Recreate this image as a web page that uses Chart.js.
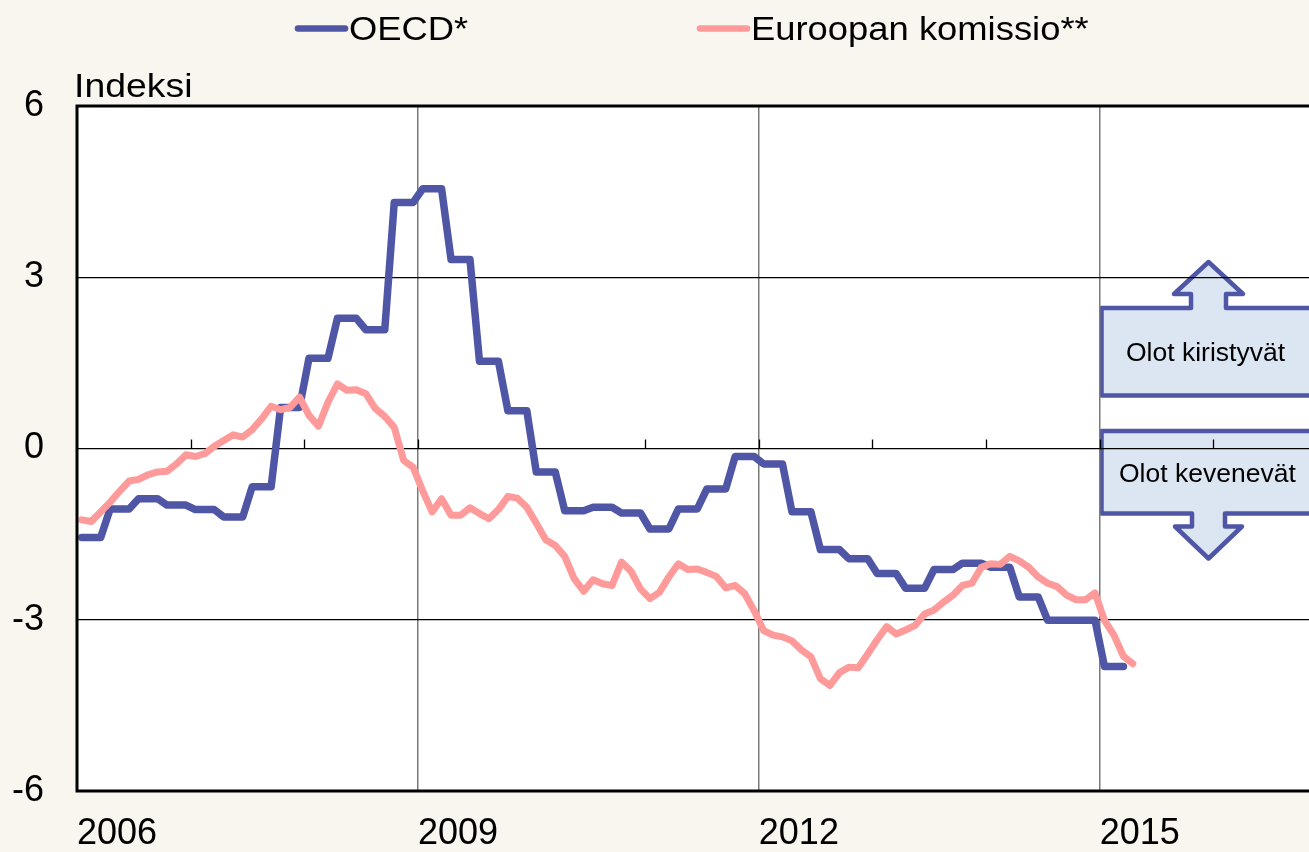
<!DOCTYPE html>
<html>
<head>
<meta charset="utf-8">
<script src="https://cdn.jsdelivr.net/npm/chart.js@4/dist/chart.umd.min.js"></script>
<style>
  html, body { margin: 0; padding: 0; overflow: hidden; background: #F9F5EF; }
  #wrap { width: 1309px; height: 852px; overflow: hidden; }
  canvas { display: block; }
</style>
</head>
<body>
<div id="wrap"><canvas id="c" width="1327" height="852"></canvas></div>
<script>
// ---- Data (monthly, Jan 2006 onward) ----
const startYear = 2006;
const seriesNames = ['OECD*', 'Euroopan komissio**'];
const seriesColors = ['#4F56A6', '#FF9A9A'];

// OECD* (quarterly value, shown for each month)
const oecd = [
  -1.56,-1.56,-1.56, -1.06,-1.06,-1.06, -0.88,-0.88,-0.88, -0.99,-0.99,-0.99,
  -1.07,-1.07,-1.07, -1.20,-1.20,-1.20, -0.67,-0.67,-0.67,  0.72, 0.72, 0.72,
   1.58, 1.58, 1.58,  2.28, 2.28, 2.28,  2.08, 2.08, 2.08,  4.31, 4.31, 4.31,
   4.55, 4.55, 4.55,  3.31, 3.31, 3.31,  1.53, 1.53, 1.53,  0.66, 0.66, 0.66,
  -0.41,-0.41,-0.41, -1.09,-1.09,-1.09, -1.03,-1.03,-1.03, -1.13,-1.13,-1.13,
  -1.41,-1.41,-1.41, -1.06,-1.06,-1.06, -0.71,-0.71,-0.71, -0.14,-0.14,-0.14,
  -0.27,-0.27,-0.27, -1.11,-1.11,-1.11, -1.77,-1.77,-1.77, -1.93,-1.93,-1.93,
  -2.19,-2.19,-2.19, -2.45,-2.45,-2.45, -2.12,-2.12,-2.12, -2.01,-2.01,-2.01,
  -2.08,-2.08,-2.08, -2.60,-2.60,-2.60, -3.01,-3.01,-3.01, -3.01,-3.01,-3.01,
  -3.82,-3.82,-3.82
];

// Euroopan komissio** (monthly)
const ec = [
  -1.25,-1.28,-1.11,-0.94,-0.75,-0.57,-0.54,-0.46,-0.41,-0.40,-0.27,-0.11,
  -0.14,-0.09, 0.04, 0.14, 0.24, 0.20, 0.33, 0.52, 0.74, 0.68, 0.72, 0.90,
   0.58, 0.39, 0.81, 1.13, 1.02, 1.03, 0.96, 0.70, 0.56, 0.37,-0.21,-0.33,
  -0.74,-1.11,-0.88,-1.17,-1.17,-1.04,-1.14,-1.23,-1.07,-0.84,-0.87,-1.03,
  -1.31,-1.60,-1.70,-1.89,-2.28,-2.50,-2.30,-2.37,-2.40,-1.99,-2.15,-2.46,
  -2.63,-2.52,-2.25,-2.02,-2.12,-2.11,-2.17,-2.24,-2.44,-2.40,-2.54,-2.84,
  -3.19,-3.27,-3.30,-3.37,-3.53,-3.65,-4.03,-4.15,-3.93,-3.83,-3.84,-3.60,
  -3.35,-3.12,-3.25,-3.18,-3.10,-2.90,-2.83,-2.69,-2.57,-2.40,-2.36,-2.08,
  -2.02,-2.03,-1.89,-1.97,-2.08,-2.25,-2.36,-2.42,-2.57,-2.65,-2.65,-2.53,
  -3.01,-3.27,-3.64,-3.77
];

const yearTicks = [2006, 2009, 2012, 2015];
const minorYears = [2007, 2008, 2009, 2010, 2011, 2012, 2013, 2014, 2015, 2016];
const yTicks = [-6, -3, 0, 3, 6];
const yTitle = 'Indeksi';
const calloutUp = 'Olot kiristyvät';
const calloutDown = 'Olot kevenevät';

// month index -> decimal year (mid-month)
function toPoints(values) {
  return values.map((v, i) => ({ x: startYear + (i + 0.5) / 12, y: v }));
}

const FONT = '"Liberation Sans", Arial, sans-serif';
Chart.defaults.font.family = FONT;
Chart.defaults.color = '#000';

// draw text slightly stretched horizontally (as in the reference)
function wideText(ctx, txt, x, y, sx) {
  ctx.save();
  ctx.translate(x, y);
  ctx.scale(sx, 1);
  ctx.fillText(txt, 0, 0);
  ctx.restore();
}

const bgPlugin = {
  id: 'bg',
  beforeDraw(chart) {
    const { ctx, chartArea: a } = chart;
    ctx.save();
    ctx.fillStyle = '#F9F5EF';
    ctx.fillRect(0, 0, chart.width, chart.height);
    ctx.fillStyle = '#FFFFFF';
    ctx.fillRect(a.left, a.top, a.right - a.left, a.bottom - a.top);

    // callouts
    ctx.lineJoin = 'round';
    ctx.lineWidth = 4.5;
    ctx.strokeStyle = '#4F56A6';
    ctx.fillStyle = '#DCE6F2';
    // up
    ctx.beginPath();
    ctx.moveTo(1101.5, 395.5); ctx.lineTo(1101.5, 308); ctx.lineTo(1191, 308);
    ctx.lineTo(1191, 294); ctx.lineTo(1174, 294); ctx.lineTo(1208.5, 262);
    ctx.lineTo(1243, 294); ctx.lineTo(1226, 294); ctx.lineTo(1226, 308);
    ctx.lineTo(1318, 308); ctx.lineTo(1318, 395.5); ctx.closePath();
    ctx.fill(); ctx.stroke();
    // down
    ctx.beginPath();
    ctx.moveTo(1101.5, 431); ctx.lineTo(1101.5, 513.5); ctx.lineTo(1192, 513.5);
    ctx.lineTo(1192, 526.5); ctx.lineTo(1175, 526.5); ctx.lineTo(1208.5, 558.5);
    ctx.lineTo(1242, 526.5); ctx.lineTo(1225, 526.5); ctx.lineTo(1225, 513.5);
    ctx.lineTo(1318, 513.5); ctx.lineTo(1318, 431); ctx.closePath();
    ctx.fill(); ctx.stroke();

    ctx.fillStyle = '#000';
    ctx.font = '25px ' + FONT;
    ctx.textBaseline = 'alphabetic';
    ctx.textAlign = 'left';
    wideText(ctx, calloutUp, 1126, 361, 1.06);
    wideText(ctx, calloutDown, 1119, 482, 1.06);
    ctx.restore();
  },
  beforeDatasetsDraw(chart) {
    const { ctx } = chart;
    const xs = chart.scales.x, ys = chart.scales.y;
    const y0 = ys.getPixelForValue(0);
    ctx.save();
    ctx.strokeStyle = '#000';
    ctx.lineWidth = 1.3;
    minorYears.forEach(yr => {
      const px = Math.round(xs.getPixelForValue(yr)) + 0.5;
      ctx.beginPath(); ctx.moveTo(px, y0); ctx.lineTo(px, y0 - 9); ctx.stroke();
    });
    ctx.restore();
  },
  afterDraw(chart) {
    const { ctx, chartArea: a } = chart;
    ctx.save();
    // plot border (left, top, bottom)
    ctx.strokeStyle = '#000';
    ctx.lineWidth = 3;
    ctx.beginPath();
    ctx.moveTo(chart.width + 5, a.top); ctx.lineTo(a.left, a.top);
    ctx.lineTo(a.left, a.bottom); ctx.lineTo(chart.width + 5, a.bottom);
    ctx.stroke();

    // y title
    ctx.fillStyle = '#000';
    ctx.font = '34px ' + FONT;
    ctx.textAlign = 'left';
    ctx.textBaseline = 'alphabetic';
    wideText(ctx, yTitle, 74, 97, 1.1);

    // legend
    const legendX = [295, 697];
    chart.data.datasets.forEach((ds, i) => {
      const lx = legendX[i];
      ctx.strokeStyle = ds.borderColor;
      ctx.lineWidth = 6.5;
      ctx.lineCap = 'round';
      ctx.beginPath(); ctx.moveTo(lx + 3, 28.5); ctx.lineTo(lx + 50, 28.5); ctx.stroke();
      ctx.fillStyle = '#000';
      wideText(ctx, ds.label, lx + 54, 40, 1.07);
    });
    ctx.restore();
  }
};

new Chart(document.getElementById('c'), {
  type: 'line',
  data: {
    datasets: [
      { label: seriesNames[0], data: toPoints(oecd), borderColor: seriesColors[0],
        backgroundColor: seriesColors[0], borderWidth: 7.5, pointRadius: 0,
        tension: 0, borderJoinStyle: 'round', borderCapStyle: 'round', order: 1 },
      { label: seriesNames[1], data: toPoints(ec), borderColor: seriesColors[1],
        backgroundColor: seriesColors[1], borderWidth: 7, pointRadius: 0,
        tension: 0, borderJoinStyle: 'round', borderCapStyle: 'round', order: 0 }
    ]
  },
  options: {
    responsive: false,
    animation: false,
    devicePixelRatio: 1,
    layout: { padding: { top: 106, left: 0, right: 0, bottom: 0 } },
    plugins: { legend: { display: false }, tooltip: { enabled: false } },
    scales: {
      x: {
        type: 'linear', min: 2006, max: 2017,
        afterBuildTicks: s => { s.ticks = yearTicks.map(v => ({ value: v })); },
        afterFit: s => { s.height = 61; },
        ticks: { font: { size: 36 }, color: '#000', align: 'start', padding: 21,
                 maxRotation: 0, autoSkip: false, callback: v => String(v) },
        grid: { drawTicks: false, lineWidth: 1.5,
                color: c => (c.tick && c.tick.value === 2006) ? 'rgba(0,0,0,0)' : '#7A7A7A' },
        border: { display: false }
      },
      y: {
        min: -6, max: 6,
        afterBuildTicks: s => { s.ticks = yTicks.map(v => ({ value: v })); },
        afterFit: s => { s.width = 77; },
        ticks: { font: { size: 36 }, color: '#000', padding: 33, callback: v => String(v) },
        grid: { drawTicks: false, lineWidth: 1.3,
                color: c => (c.tick && Math.abs(c.tick.value) === 6) ? 'rgba(0,0,0,0)' : '#000' },
        border: { display: false }
      }
    }
  },
  plugins: [bgPlugin]
});
</script>
</body>
</html>
